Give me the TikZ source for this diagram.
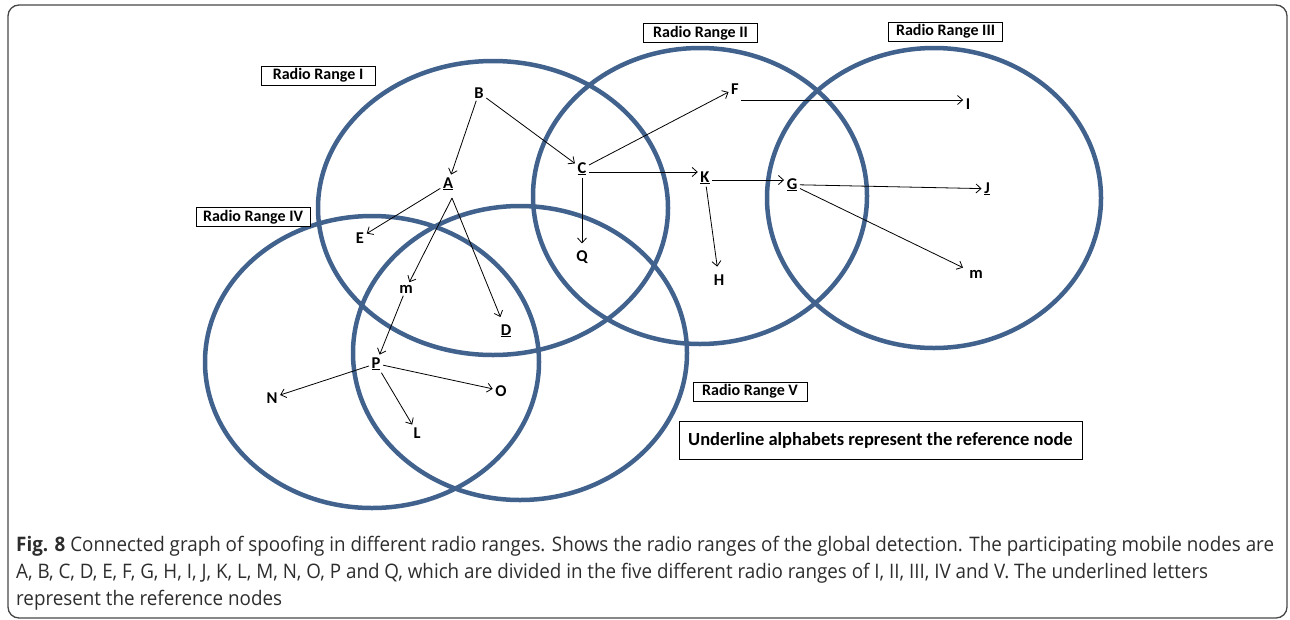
\documentclass[tikz,border=0pt]{standalone}
\usepackage{fontspec}
\setmainfont{Carlito}
\newfontfamily\capfont[FakeStretch=0.94]{Open Sans}
\usetikzlibrary{arrows.meta}
\definecolor{ringblue}{RGB}{66,98,142}
\definecolor{framegray}{RGB}{70,70,70}
\definecolor{captext}{RGB}{45,45,45}
\begin{document}
\begin{tikzpicture}[x=1pt,y=-1pt,
  ring/.style={draw=ringblue,line width=4.5pt},
  rbox/.style={draw=black,line width=0.8pt,minimum width=114pt,minimum height=19pt,inner sep=0pt,font=\fontsize{16}{19}\selectfont\bfseries},
  notebox/.style={draw=black,line width=0.8pt,minimum width=403pt,minimum height=38pt,inner sep=0pt,font=\fontsize{18.5}{22}\selectfont\bfseries},
  letter/.style={anchor=base,inner sep=2.5pt,font=\fontsize{16.5}{19}\selectfont\bfseries},
  arr/.style={draw=black,line width=0.8pt,-{Straight Barb[length=5pt,width=9pt]}},
  capline/.style={anchor=base west,inner sep=0pt,text=captext,font=\capfont\fontsize{20}{24}\selectfont}
]
\useasboundingbox (0,0) rectangle (1290,619);
\draw[framegray,line width=1.3pt,rounded corners=11pt] (8,5) rectangle (1287,618);

% radio ranges
\draw[ring] (493,208) ellipse [x radius=175, y radius=147];
\draw[ring] (700,196) ellipse [x radius=167, y radius=148];
\draw[ring] (934,198) ellipse [x radius=167, y radius=150];
\draw[ring] (372,362) ellipse [x radius=167, y radius=146];
\draw[ring] (520,353) ellipse [x radius=167, y radius=147];

% range labels
\node[rbox,fill=white] (r1) at (318,75.5) {Radio Range I};
\node[rbox,fill=white] (r2) at (700.5,33) {Radio Range II};
\node[rbox,fill=white] (r3) at (945.5,31.5) {Radio Range III};
\node[rbox,fill=white] (r4) at (253,217) {Radio Range IV};
\node[rbox,fill=white] (r5) at (750,391.5) {Radio Range V};
\node[notebox,fill=white] (note) at (880.5,440) {Underline alphabets represent the reference node};

% mobile nodes
\node[letter] (B) at (479,98) {B};
\node[letter] (A) at (448,188) {\underline{A}};
\node[letter] (C) at (582,173) {\underline{C}};
\node[letter] (F) at (735,94) {F};
\node[letter] (K) at (705,182) {\underline{K}};
\node[letter] (G) at (792,189) {\underline{G}};
\node[letter] (I) at (968,109) {I};
\node[letter] (J) at (987,193) {\underline{J}};
\node[letter] (m2) at (976,278) {m};
\node[letter] (H) at (719,285) {H};
\node[letter] (Q) at (582,261) {Q};
\node[letter] (E) at (360,243) {E};
\node[letter] (m1) at (406,293) {m};
\node[letter] (D) at (506,335) {\underline{D}};
\node[letter] (P) at (376,368) {\underline{P}};
\node[letter] (N) at (272,403) {N};
\node[letter] (O) at (501,396) {O};
\node[letter] (L) at (417,438) {L};
\coordinate (Afork) at ([xshift=4pt,yshift=-10pt]A.base);

% connectors
\draw[arr] (B) -- (A);
\draw[arr] (B) -- (C);
\draw[arr] (C) -- (F);
\draw[arr] ([yshift=1pt]C.base east) -- ([yshift=1pt]C.base east -| K.west);
\draw[arr,shorten >=4pt] (C) -- (Q);
\draw[arr] ([yshift=-6pt]F.base east) -- ([yshift=9pt]I.base west);
\draw[arr] ([yshift=2pt]K.base east) -- ([yshift=2pt]K.base east -| G.west);
\draw[arr,shorten >=5pt] (K) -- (H);
\draw[arr] (G) -- (J);
\draw[arr,shorten >=4pt] (G) -- (m2);
\draw[arr] (A) -- (E);
\draw[arr] (Afork) -- (m1);
\draw[arr,shorten >=5pt] (Afork) -- (D);
\draw[arr] (m1) -- (P);
\draw[arr] (P) -- (N);
\draw[arr] (P) -- (O);
\draw[arr] (P) -- (L);

% caption
\node[capline] (cap1) at (16,551) {\textbf{Fig. 8} Connected graph of spoofing in different radio ranges. Shows the radio ranges of the global detection. The participating mobile nodes are};
\node[capline] (cap2) at (16,578) {A, B, C, D, E, F, G, H, I, J, K, L, M, N, O, P and Q, which are divided in the five different radio ranges of I, II, III, IV and V. The underlined letters};
\node[capline] (cap3) at (16,605) {represent the reference nodes};
\end{tikzpicture}
\end{document}
